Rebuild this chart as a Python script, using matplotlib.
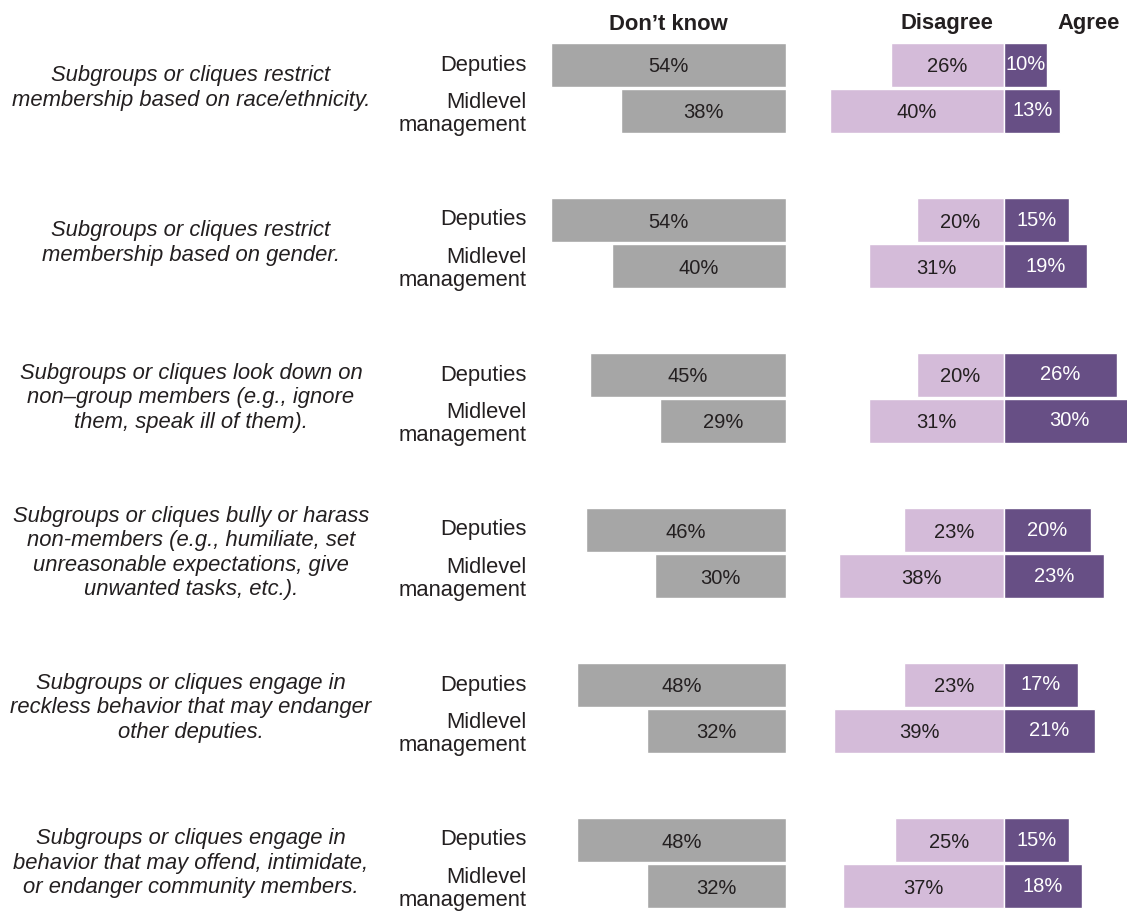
import numpy as np
import matplotlib.pyplot as plt

plt.rcParams['font.family'] = ['Liberation Sans', 'DejaVu Sans']

questions = [
    "Subgroups or cliques restrict\nmembership based on race/ethnicity.",
    "Subgroups or cliques restrict\nmembership based on gender.",
    "Subgroups or cliques look down on\nnon\u2013group members (e.g., ignore\nthem, speak ill of them).",
    "Subgroups or cliques bully or harass\nnon-members (e.g., humiliate, set\nunreasonable expectations, give\nunwanted tasks, etc.).",
    "Subgroups or cliques engage in\nreckless behavior that may endanger\nother deputies.",
    "Subgroups or cliques engage in\nbehavior that may offend, intimidate,\nor endanger community members.",
]
groups = ["Deputies", "Midlevel\nmanagement"]

dontknow_dep = [54, 54, 45, 46, 48, 48]
dontknow_mid = [38, 40, 29, 30, 32, 32]
disagree_dep = [26, 20, 20, 23, 23, 25]
disagree_mid = [40, 31, 31, 38, 39, 37]
agree_dep = [10, 15, 26, 20, 17, 15]
agree_mid = [13, 19, 30, 23, 21, 18]

grey = "#a6a6a6"
light = "#d4bbd9"
dark = "#674f85"
txt = "#231f20"

W, H = 1127, 911
fig = plt.figure(figsize=(W / 100, H / 100), dpi=100)

# background axes in pixel units for the text columns
axt = fig.add_axes([0, 0, 1, 1])
axt.set_xlim(0, W)
axt.set_ylim(H, 0)
axt.axis("off")

ax1 = fig.add_axes([540 / W, 0, 246 / W, 1])
ax1.set_xlim(56.5, 0)
ax1.set_ylim(H, 0)
ax1.axis("off")

ax2 = fig.add_axes([820 / W, 0, 307 / W, 1])
ax2.set_xlim(-42.3, 28.3)
ax2.set_ylim(H, 0)
ax2.axis("off")

n = len(questions)
pitch = 155
dep_y = 65 + pitch * np.arange(n)
mid_y = dep_y + 46
bh = 44
fs = 15.8
pfs = 14.5

for ys, dk, dis, agr in [(dep_y, dontknow_dep, disagree_dep, agree_dep),
                         (mid_y, dontknow_mid, disagree_mid, agree_mid)]:
    ax1.barh(ys, dk, height=bh, color=grey, edgecolor="white", linewidth=1)
    ax2.barh(ys, [-v for v in dis], height=bh, color=light, edgecolor="white", linewidth=1)
    ax2.barh(ys, agr, height=bh, color=dark, edgecolor="white", linewidth=1)
    for y, a, b, c in zip(ys, dk, dis, agr):
        ax1.text(a / 2, y + 2, f"{a}%", ha="center", va="center", fontsize=pfs, color=txt)
        ax2.text(-b / 2, y + 2, f"{b}%", ha="center", va="center", fontsize=pfs, color=txt)
        ax2.text(c / 2, y, f"{c}%", ha="center", va="center", fontsize=pfs, color="white")

for i, q in enumerate(questions):
    yc = (dep_y[i] + mid_y[i]) / 2
    axt.text(191, yc, q, ha="center", va="center", fontsize=fs, style="italic",
             color=txt, linespacing=1.2)
    axt.text(527, dep_y[i], groups[0], ha="right", va="center", fontsize=fs, color=txt)
    axt.text(527, mid_y[i] + 3, groups[1], ha="right", va="center", fontsize=fs,
             color=txt, linespacing=1.15)

ax1.text(27, 24, "Don\u2019t know", ha="center", va="center", fontsize=fs, fontweight="bold", color=txt)
ax2.text(-13, 24, "Disagree", ha="center", va="center", fontsize=fs, fontweight="bold", color=txt)
ax2.text(19.5, 24, "Agree", ha="center", va="center", fontsize=fs, fontweight="bold", color=txt)

fig.savefig("out.png", dpi=100)
